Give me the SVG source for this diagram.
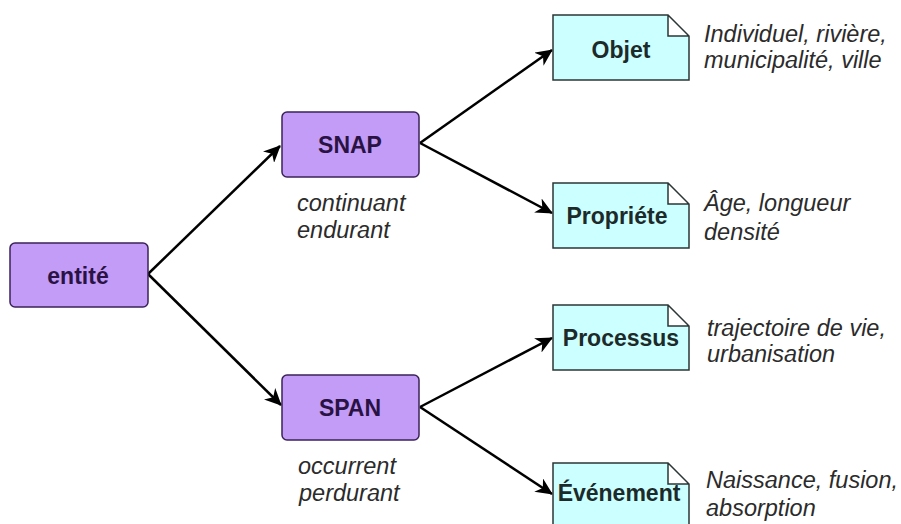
<svg xmlns="http://www.w3.org/2000/svg" width="901" height="524" viewBox="0 0 901 524">
<defs>
<style>
.p{fill:#c29cf7;stroke:#3b2258;stroke-width:1.5}
.n{fill:#ccffff;stroke:#2b3636;stroke-width:1.5}
.lb{font-family:"Liberation Sans",Arial,sans-serif;font-weight:bold;font-size:23px;text-anchor:middle}
.pl{fill:#2a1244}
.nl{fill:#1c2a2a}
.it{font-family:"Liberation Sans",Arial,sans-serif;font-style:italic;font-size:23.5px;fill:#2b2b2b}
.c{stroke:#000;stroke-width:2.5;fill:none;marker-end:url(#ah)}
</style>
<marker id="ah" markerWidth="18" markerHeight="16" refX="16" refY="8" orient="auto" markerUnits="userSpaceOnUse">
<path d="M0,0 L17,8 L0,16 L5,8 Z" fill="#000"/>
</marker>
</defs>
<rect width="901" height="524" fill="#fff"/>
<g id="connectors">
<line class="c" x1="148" y1="274" x2="280" y2="146"/>
<line class="c" x1="148" y1="274" x2="281" y2="405"/>
<line class="c" x1="420" y1="143" x2="552" y2="50"/>
<line class="c" x1="420" y1="143" x2="552" y2="213"/>
<line class="c" x1="420" y1="407" x2="552" y2="338"/>
<line class="c" x1="420" y1="407" x2="552" y2="494"/>
</g>
<g id="entite">
<rect class="p" x="10" y="243" width="138" height="64" rx="5"/>
<text class="lb pl" x="78" y="284">entité</text>
</g>
<g id="snap">
<rect class="p" x="282" y="112" width="137" height="65" rx="5"/>
<text class="lb pl" x="350" y="153">SNAP</text>
<text class="it" x="297" y="211">continuant</text>
<text class="it" x="297" y="238">endurant</text>
</g>
<g id="span">
<rect class="p" x="282" y="375" width="137" height="65" rx="5"/>
<text class="lb pl" x="350" y="416">SPAN</text>
<text class="it" x="298" y="474">occurrent</text>
<text class="it" x="299" y="501">perdurant</text>
</g>
<g id="objet">
<path class="n" d="M553,15 H668 L689,36 V80 H553 Z M668,15 V36 H689"/>
<text class="lb nl" x="621" y="58">Objet</text>
<text class="it" x="704" y="42">Individuel, rivière,</text>
<text class="it" x="704" y="68">municipalité, ville</text>
</g>
<g id="propriete">
<path class="n" d="M553,183 H668 L689,204 V248 H553 Z M668,183 V204 H689"/>
<text class="lb nl" x="617" y="224">Propriéte</text>
<text class="it" x="704" y="211">Âge, longueur</text>
<text class="it" x="704" y="240">densité</text>
</g>
<g id="processus">
<path class="n" d="M553,305 H668 L689,326 V370 H553 Z M668,305 V326 H689"/>
<text class="lb nl" x="621" y="346">Processus</text>
<text class="it" x="707" y="336">trajectoire de vie,</text>
<text class="it" x="707" y="362">urbanisation</text>
</g>
<g id="evenement">
<path class="n" d="M553,463 H668 L689,484 V528 H553 Z M668,463 V484 H689"/>
<text class="lb nl" x="619" y="501">Événement</text>
<text class="it" x="706" y="488">Naissance, fusion,</text>
<text class="it" x="706" y="516">absorption</text>
</g>
</svg>
